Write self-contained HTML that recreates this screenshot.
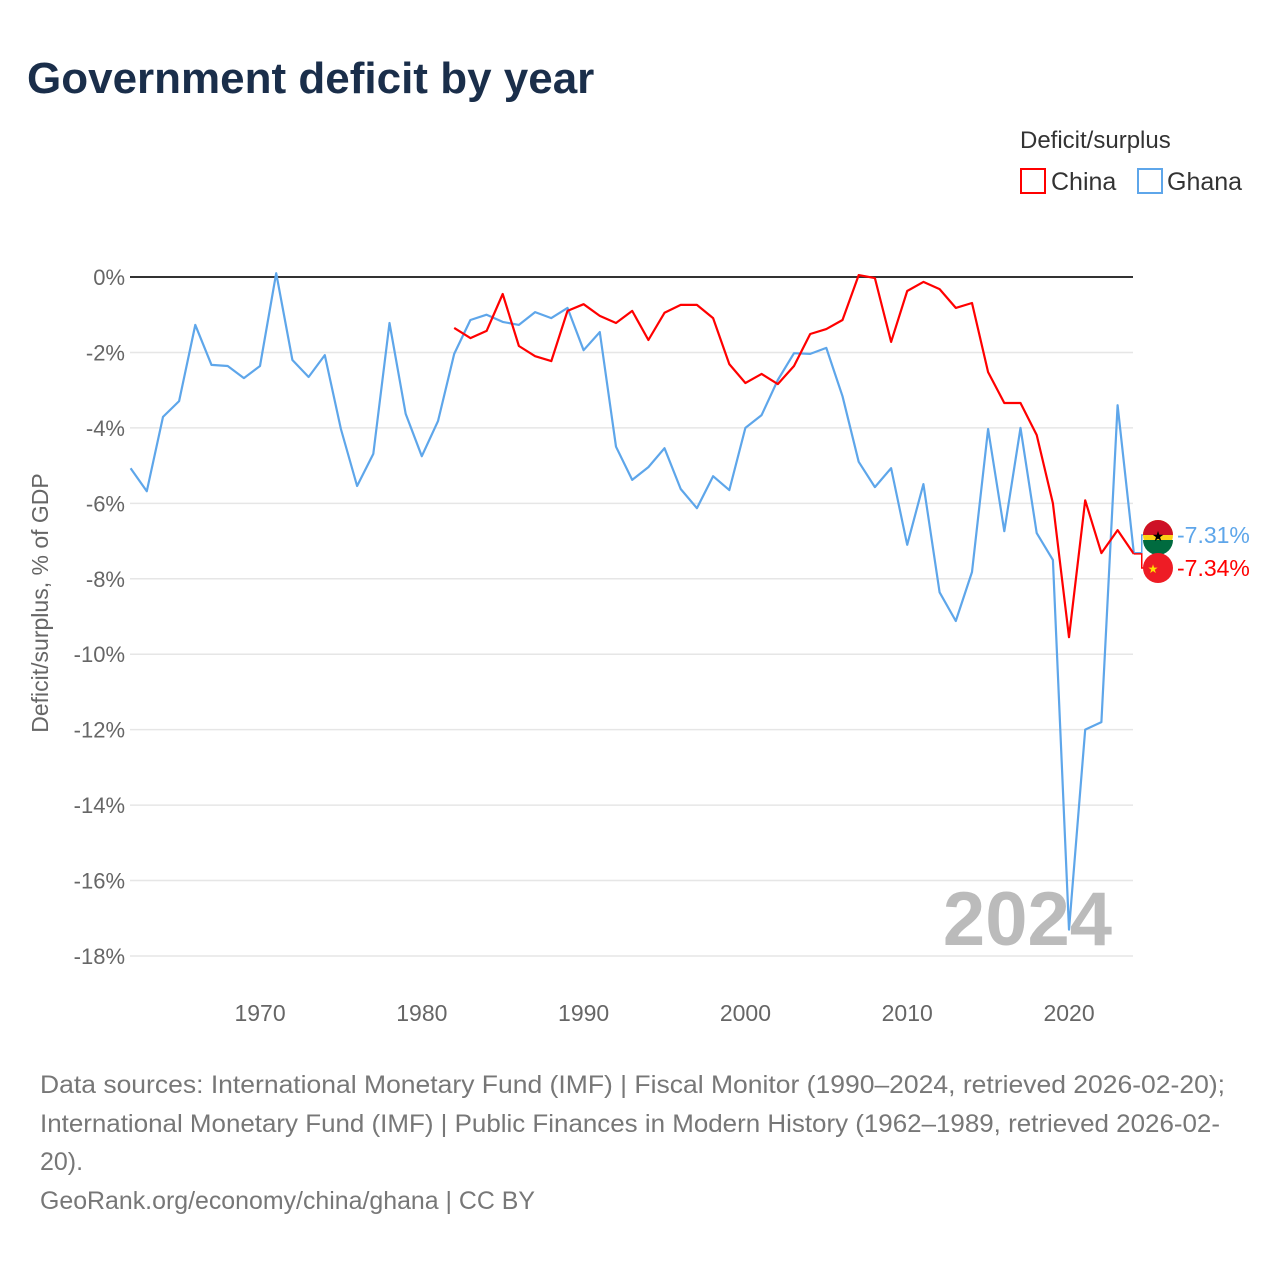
<!DOCTYPE html>
<html><head><meta charset="utf-8"><style>
body{margin:0;width:1280px;height:1280px;background:#fff;font-family:"Liberation Sans",sans-serif;overflow:hidden}
</style></head><body>
<svg width="1280" height="1280" xmlns="http://www.w3.org/2000/svg" id="svg">
<text x="27" y="93" font-size="44" font-weight="bold" fill="#1a2e4a">Government deficit by year</text>
<text x="1020" y="148" font-size="24" fill="#333">Deficit/surplus</text>
<g><rect x="1021" y="169" width="24" height="24" fill="none" stroke="#f00" stroke-width="2"/><text x="1051" y="190" font-size="25" fill="#333">China</text></g>
<g><rect x="1138" y="169" width="24" height="24" fill="none" stroke="#5ea6ea" stroke-width="2"/><text x="1167" y="190" font-size="25" fill="#333">Ghana</text></g>
<text transform="translate(48,603) rotate(-90)" text-anchor="middle" font-size="23" fill="#666">Deficit/surplus, % of GDP</text>
<g id="grid"></g>
<text x="1112" y="945" text-anchor="end" font-size="76" font-weight="bold" fill="#bbb">2024</text>
<g id="series"></g>
<g font-size="25" fill="#777">
<text x="40" y="1093" textLength="1185" lengthAdjust="spacingAndGlyphs">Data sources: International Monetary Fund (IMF) | Fiscal Monitor (1990–2024, retrieved 2026-02-20);</text>
<text x="40" y="1132" textLength="1180" lengthAdjust="spacingAndGlyphs">International Monetary Fund (IMF) | Public Finances in Modern History (1962–1989, retrieved 2026-02-</text>
<text x="40" y="1170">20).</text>
<text x="40" y="1209" textLength="495" lengthAdjust="spacingAndGlyphs">GeoRank.org/economy/china/ghana | CC BY</text>
</g>
</svg>
<script>
const yTicks=[0,-2,-4,-6,-8,-10,-12,-14,-16,-18];
const xTicks=[1970,1980,1990,2000,2010,2020];
const ghanaStart=1962;
const ghana=[-5.07,-5.68,-3.71,-3.29,-1.27,-2.33,-2.36,-2.68,-2.36,0.1,-2.2,-2.65,-2.07,-4.03,-5.54,-4.69,-1.22,-3.63,-4.75,-3.82,-2.04,-1.14,-1.0,-1.19,-1.27,-0.93,-1.09,-0.82,-1.94,-1.46,-4.5,-5.38,-5.04,-4.54,-5.62,-6.13,-5.28,-5.65,-4.0,-3.66,-2.73,-2.02,-2.04,-1.88,-3.16,-4.9,-5.57,-5.07,-7.1,-5.49,-8.36,-9.12,-7.82,-4.03,-6.74,-4.0,-6.79,-7.5,-17.3,-12.0,-11.8,-3.4,-7.31];
const chinaStart=1982;
const china=[-1.35,-1.62,-1.43,-0.45,-1.83,-2.1,-2.23,-0.9,-0.72,-1.03,-1.22,-0.9,-1.67,-0.95,-0.74,-0.74,-1.09,-2.31,-2.81,-2.57,-2.84,-2.36,-1.51,-1.38,-1.14,0.05,-0.03,-1.72,-0.37,-0.13,-0.32,-0.82,-0.69,-2.52,-3.34,-3.34,-4.19,-6.0,-9.55,-5.92,-7.32,-6.71,-7.34];
const X=yr=>130.6+(yr-1962)*16.18;
const Y=v=>277-v*37.72;
const NS='http://www.w3.org/2000/svg';
function mk(t,a,p){const e=document.createElementNS(NS,t);for(const k in a)e.setAttribute(k,a[k]);p.appendChild(e);return e;}
const grid=document.getElementById('grid');
yTicks.forEach(v=>{
  const l=mk('line',{x1:130,x2:1133,y1:Y(v),y2:Y(v),stroke:v===0?'#333':'#e6e6e6','stroke-width':v===0?2:1.5},grid);
  
  
  const t=mk('text',{x:125,y:Y(v)+8,'text-anchor':'end','font-size':22,fill:'#666'},grid);
  t.textContent=v+'%';
  
  
});
xTicks.forEach(yr=>{
  const t=mk('text',{x:X(yr),y:1021,'text-anchor':'middle','font-size':23,fill:'#666'},grid);
  t.textContent=yr;
  
  
});
const s=document.getElementById('series');
function line(arr,start,color,name){
  const d=arr.map((v,i)=>(i?'L':'M')+X(start+i).toFixed(1)+' '+Y(v).toFixed(1)).join(' ');
  const p=mk('path',{d:d,fill:'none',stroke:color,'stroke-width':2.2,'stroke-linejoin':'round'},s);
  
  
}
line(ghana,ghanaStart,'#5ea6ea','ghana-line');
line(china,chinaStart,'#f00','china-line');
function endLabel(v,ly,color,name,flag){
  const x0=X(2024),y0=Y(v);
  mk('path',{d:`M${x0} ${y0} H${x0+8} V${ly} H${x0+12}`,fill:'none',stroke:color,'stroke-width':1.5},s);
  const g=mk('g',{},s);
  
  
  if(flag==='gh'){
    mk('circle',{cx:1158,cy:ly,r:15,fill:'#fcd116'},g);
    mk('path',{d:`M1143 ${ly} A15 15 0 0 1 1173 ${ly} Z`,fill:'#ce1126'},g);
    mk('path',{d:`M1143 ${ly+5} A15 15 0 0 0 1173 ${ly+5} Z`,fill:'#006b3f'},g);
    const st=mk('text',{x:1158,y:ly+6,'text-anchor':'middle','font-size':14,fill:'#000'},g);st.textContent='★';
  }else{
    mk('circle',{cx:1158,cy:ly,r:15,fill:'#ee1c25'},g);
    const st=mk('text',{x:1153,y:ly+5,'text-anchor':'middle','font-size':12,fill:'#ffde00'},g);st.textContent='★';
  }
  const t=mk('text',{x:1177,y:ly+8,'font-size':23,fill:color},g);
  t.textContent=v.toFixed(2)+'%';
}
endLabel(ghana[ghana.length-1],535,'#5ea6ea','ghana-end-label','gh');
endLabel(china[china.length-1],568,'#f00','china-end-label','cn');
</script>
</body></html>
